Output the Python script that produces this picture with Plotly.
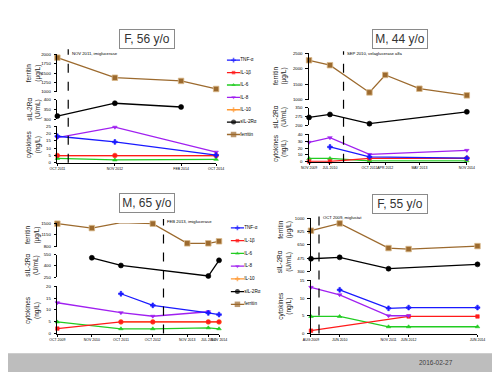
import plotly.graph_objects as go

W, H = 500, 375

# ---------------- data ----------------
series_names = ["TNF-α", "IL-1β", "IL-6", "IL-8", "IL-10", "sIL-2Rα", "ferritin"]

# Panel 1: F, 56 y/o
p1_dates = ["2011-10-01", "2012-11-01", "2014-02-01", "2014-10-01"]
p1_ticks = ["OCT 2011", "NOV 2012", "FEB 2014", "OCT 2014"]
p1_ferritin = [1910, 1375, 1290, 1075]
p1_sil2ra = [317, 382, 363, None]
p1_tnf = [18.2, 14.3, None, 5.2]
p1_il1b = [5.0, 5.0, None, 5.0]
p1_il6 = [3.0, 2.0, None, 2.4]
p1_il8 = [17.3, 24.4, None, 7.3]
p1_il10 = [5.0, 5.0, None, 5.0]
p1_treat_date = "2011-12-15"
p1_treat_label = "NOV 2011, imiglucerase"

# Panel 2: M, 44 y/o
p2_dates = ["2009-11-01", "2010-07-01", "2011-10-01", "2012-04-01", "2013-05-01", "2014-11-01"]
p2_ticks = ["NOV 2009", "JUL 2010", "OCT 2011", "APR 2012", "MAY 2013", "NOV 2014"]
p2_ferritin = [2275, 2115, 1235, 1800, 1355, 1140]
p2_sil2ra = [267, 292, 214, None, None, 314]
p2_tnf = [None, 21.5, 7.3, None, None, 5.4]
p2_il1b = [0.5, 0.5, 5.0, None, None, 5.0]
p2_il6 = [4.9, 4.9, 1.5, None, None, 1.5]
p2_il8 = [28.3, 35.0, 10.7, None, None, 16.6]
p2_il10 = [None, None, 5.0, None, None, 5.0]
p2_treat_date = "2010-12-05"
p2_treat_label = "SEP 2010, velaglucerase alfa"

# Panel 3: M, 65 y/o
p3_dates = ["2009-10-01", "2010-11-01", "2011-10-01", "2012-10-01", "2013-11-01", "2014-07-01", "2014-11-01"]
p3_ticks = ["OCT 2009", "NOV 2010", "OCT 2011", "OCT 2012", "NOV 2013", "JUL 2014", "NOV 2014"]
p3_ferritin = [1480, 1350, 1510, 1480, 900, 900, 960]
p3_sil2ra = [None, 508, 406, None, None, 267, 474]
p3_tnf = [None, None, 16.8, 11.9, None, 8.7, 8.0]
p3_il1b = [2.1, None, 4.9, 4.9, None, 4.9, 4.9]
p3_il6 = [4.9, None, 2.0, 2.0, None, 2.4, 2.0]
p3_il8 = [13.0, None, 8.8, 7.3, None, 9.2, None]
p3_il10 = [None, None, 4.9, 4.9, None, 4.9, 4.9]
p3_treat_date = "2013-02-01"
p3_treat_label = "FEB 2013, imiglucerase"

# Panel 4: F, 55 y/o
p4_dates = ["2009-08-01", "2010-06-01", "2011-11-01", "2012-06-01", "2014-06-01"]
p4_ticks = ["AUG 2009", "JUN 2010", "NOV 2011", "JUN 2012", "JUN 2014"]
p4_ferritin = [834, 930, 606, 593, 632]
p4_sil2ra = [466, 484, 335, None, 392]
p4_tnf = [None, 12.3, 7.1, 7.3, 7.3]
p4_il1b = [0.8, None, None, 4.8, 4.8]
p4_il6 = [4.8, 4.8, 1.9, 1.9, 1.9]
p4_il8 = [13.0, 10.9, 5.0, 5.0, None]
p4_il10 = [None, None, None, None, None]
p4_treat_date = "2009-10-25"
p4_treat_label = "OCT 2009, miglustat"

titles = ["F, 56 y/o", "M, 44 y/o", "M, 65 y/o", "F, 55 y/o"]
footer_date = "2016-02-27"

# ---------------- styles ----------------
COLORS = {"TNF-α": "#1a1aff", "IL-1β": "#ff1a1a", "IL-6": "#22cc22", "IL-8": "#a020f0",
          "IL-10": "#ff9933", "sIL-2Rα": "#000000", "ferritin": "#9c6a2e"}
SYMBOLS = {"TNF-α": "cross", "IL-1β": "square", "IL-6": "triangle-up", "IL-8": "triangle-down",
           "IL-10": "cross", "sIL-2Rα": "circle", "ferritin": "square"}
SIZES = {"TNF-α": 4, "IL-1β": 3.5, "IL-6": 4, "IL-8": 4, "IL-10": 4, "sIL-2Rα": 5, "ferritin": 5.5}
FONT = "Liberation Sans, Arial, sans-serif"

def py(px):
    return 1 - px / H

def pxx(px):
    return px / W

fig = go.Figure()
layout = {}
annotations = []
shapes = []

def marker(name):
    m = dict(symbol=SYMBOLS[name], size=SIZES[name], color=COLORS[name])
    if name == "ferritin":
        m["line"] = dict(color="#d9b98a", width=0.8)
    else:
        m["line"] = dict(color=COLORS[name], width=0.6)
    return m

def add_series(name, dates, vals, xa, ya):
    if all(v is None for v in vals):
        return
    fig.add_trace(go.Scatter(
        x=dates, y=vals, mode="lines+markers", name=name,
        line=dict(color=COLORS[name], width=1.3), marker=marker(name),
        connectgaps=True, cliponaxis=False, showlegend=False, hoverinfo="skip",
        xaxis=xa, yaxis=ya))

def yaxis_spec(rng, ticks, top, bot, xanchor):
    return dict(domain=[py(bot), py(top)], range=rng, tickvals=ticks, anchor=xanchor,
                showline=True, linecolor="black", linewidth=1.2, ticks="outside",
                ticklen=2.5, tickwidth=1, tickcolor="black", showgrid=False, zeroline=False,
                tickfont=dict(family=FONT, size=4.3, color="black"), ticklabelstandoff=2)

panels = [
    dict(dates=p1_dates, ticks=p1_ticks, fer=p1_ferritin, sil=p1_sil2ra,
         cyt={"TNF-α": p1_tnf, "IL-1β": p1_il1b, "IL-6": p1_il6, "IL-8": p1_il8, "IL-10": p1_il10},
         treat=(p1_treat_date, p1_treat_label), xpx=(51, 215),
         axes=[("fer", [1000, 2000], [1000, 1250, 1500, 1750, 2000], 53, 91),
               ("sil", [300, 400], [300, 350, 400], 99, 119),
               ("cyt", [0, 25], [0, 5, 10, 15, 20, 25], 126, 163)],
         titles=[("ferritin<br>(μg/L)", 72), ("sIL-2Rα<br>(U/mL)", 109), ("cytokines<br>(ng/L)", 144)],
         title_x=26, dash=(48, 163), label_y=52, head=(144, 37)),
    dict(dates=p2_dates, ticks=p2_ticks, fer=p2_ferritin, sil=p2_sil2ra,
         cyt={"TNF-α": p2_tnf, "IL-1β": p2_il1b, "IL-6": p2_il6, "IL-8": p2_il8, "IL-10": p2_il10},
         treat=(p2_treat_date, p2_treat_label), xpx=(311, 474),
         axes=[("fer", [1000, 2500], [1000, 1500, 2000, 2500], 52, 99),
               ("sil", [200, 350], [200, 275, 350], 107, 125),
               ("cyt", [0, 40], [0, 10, 20, 30, 40], 134, 162)],
         titles=[("ferritin<br>(μg/L)", 75), ("sIL-2Rα<br>(U/mL)", 117), ("cytokines<br>(ng/L)", 148)],
         title_x=281, dash=(50, 163), label_y=52, head=(405, 37)),
    dict(dates=p3_dates, ticks=p3_ticks, fer=p3_ferritin, sil=p3_sil2ra,
         cyt={"TNF-α": p3_tnf, "IL-1β": p3_il1b, "IL-6": p3_il6, "IL-8": p3_il8, "IL-10": p3_il10},
         treat=(p3_treat_date, p3_treat_label), xpx=(51, 218),
         axes=[("fer", [800, 1500], [800, 1150, 1500], 224, 248),
               ("sil", [250, 550], [250, 400, 550], 256, 279),
               ("cyt", [0, 20], [0, 5, 10, 15, 20], 288, 336)],
         titles=[("ferritin<br>(μg/L)", 236), ("sIL-2Rα<br>(U/mL)", 267), ("cytokines<br>(ng/L)", 312)],
         title_x=25, dash=(220, 336), label_y=222, head=(144, 204)),
    dict(dates=p4_dates, ticks=p4_ticks, fer=p4_ferritin, sil=p4_sil2ra,
         cyt={"TNF-α": p4_tnf, "IL-1β": p4_il1b, "IL-6": p4_il6, "IL-8": p4_il8, "IL-10": p4_il10},
         treat=(p4_treat_date, p4_treat_label), xpx=(313, 485),
         axes=[("fersil", [300, 1000], [300, 475, 650, 825, 1000], 219, 273),
               ("cyt", [0, 15], [0, 5, 10, 15], 282, 336)],
         titles=[("ferritin<br>(μg/L)", 231), ("sIL-2Rα<br>(U/mL)", 263), ("cytokines<br>(ng/L)", 308)],
         title_x=286, dash=(216, 336), label_y=218, head=(405, 205)),
]

yi = 0
for pi, p in enumerate(panels, start=1):
    xa = "x" if pi == 1 else f"x{pi}"
    xkey = "xaxis" if pi == 1 else f"xaxis{pi}"
    ymap = {}
    for (kind, rng, ticks, top, bot) in p["axes"]:
        yi += 1
        ya = "y" if yi == 1 else f"y{yi}"
        ykey = "yaxis" if yi == 1 else f"yaxis{yi}"
        layout[ykey] = yaxis_spec(rng, ticks, top, bot, xa)
        ymap[kind] = ya
    cyt_ya = ymap["cyt"]
    layout[xkey] = dict(
        domain=[pxx(p["xpx"][0]), pxx(p["xpx"][1])], type="date",
        range=[p["dates"][0], p["dates"][-1]], tickvals=p["dates"], ticktext=p["ticks"],
        anchor=cyt_ya, showline=True, linecolor="black", linewidth=1.2, ticks="outside",
        ticklen=2, tickwidth=1, tickcolor="black", showgrid=False, zeroline=False, tickangle=0,
        tickfont=dict(family=FONT, size=3.5, color="black"))
    # traces
    for name in ["IL-10", "IL-6", "IL-1β", "IL-8", "TNF-α"]:
        add_series(name, p["dates"], p["cyt"][name], xa, cyt_ya)
    add_series("sIL-2Rα", p["dates"], p["sil"], xa, ymap.get("sil", ymap.get("fersil")))
    add_series("ferritin", p["dates"], p["fer"], xa, ymap.get("fer", ymap.get("fersil")))
    # treatment dashed line + label
    tdate, tlabel = p["treat"]
    shapes.append(dict(type="line", xref=xa, yref="paper", x0=tdate, x1=tdate,
                       y0=py(p["dash"][1]), y1=py(p["dash"][0]),
                       line=dict(color="black", width=1.2, dash="dash")))
    annotations.append(dict(text=tlabel, xref=xa, yref="paper", x=tdate, y=py(p["label_y"]),
                            xanchor="left", yanchor="middle", xshift=1.5, showarrow=False,
                            font=dict(family=FONT, size=4.2, color="black")))
    # axis titles
    for txt, ycen in p["titles"]:
        annotations.append(dict(text=txt, xref="paper", yref="paper", x=pxx(p["title_x"]),
                                y=py(ycen), textangle=-90, showarrow=False,
                                xanchor="center", yanchor="middle",
                                font=dict(family=FONT, size=6.5, color="#222222")))
    # panel heading box
    hx, hy = p["head"]
    annotations.append(dict(text=titles[pi - 1], xref="paper", yref="paper", x=pxx(hx), y=py(hy),
                            showarrow=False, xanchor="center", yanchor="middle",
                            width=50, height=14, borderpad=2, bordercolor="#8a8a8a", borderwidth=1,
                            bgcolor="white", font=dict(family=FONT, size=12, color="#333333")))

# ---------------- manual legends ----------------
legend_specs = [(226, 240, 59, 12.55), (230, 244, 229, 12.9)]
for li, (x0, x1, yfirst, step) in enumerate(legend_specs):
    xidx = 5 + li
    yi += 1
    xa, ya = f"x{xidx}", f"y{yi}"
    n = len(series_names)
    layout[f"xaxis{xidx}"] = dict(domain=[pxx(x0), pxx(x1)], range=[0, 1], visible=False, anchor=ya)
    layout[f"yaxis{yi}"] = dict(domain=[py(yfirst + (n - 0.5) * step), py(yfirst - 0.5 * step)],
                                range=[n - 0.5, -0.5], visible=False, anchor=xa)
    for i, name in enumerate(series_names):
        m = dict(symbol=SYMBOLS[name], size=[0, SIZES[name], 0], color=COLORS[name],
                 line=dict(width=0))
        fig.add_trace(go.Scatter(
            x=[0, 0.5, 1], y=[i, i, i], mode="lines+markers+text", text=["", "", name],
            textposition="middle right", textfont=dict(family=FONT, size=4.6, color="black"),
            line=dict(color=COLORS[name], width=1.3), marker=m, cliponaxis=False,
            showlegend=False, hoverinfo="skip", xaxis=xa, yaxis=ya))

# ---------------- footer ----------------
shapes.append(dict(type="rect", xref="paper", yref="paper", x0=0, x1=1, y0=0, y1=py(356),
                   fillcolor="#bdbdbd", line=dict(width=0), layer="below"))
annotations.append(dict(text=footer_date, xref="paper", yref="paper", x=pxx(442), y=py(365.5),
                        showarrow=False, xanchor="center", yanchor="middle",
                        font=dict(family=FONT, size=6.5, color="#404040")))

fig.update_layout(width=W, height=H, margin=dict(l=0, r=0, t=0, b=0),
                  paper_bgcolor="white", plot_bgcolor="rgba(0,0,0,0)",
                  showlegend=False, shapes=shapes, annotations=annotations, **layout)

fig.write_html("out.html", config={"displayModeBar": False, "staticPlot": True},
               post_script="document.body.style.margin='0';document.body.style.overflow='hidden';")
